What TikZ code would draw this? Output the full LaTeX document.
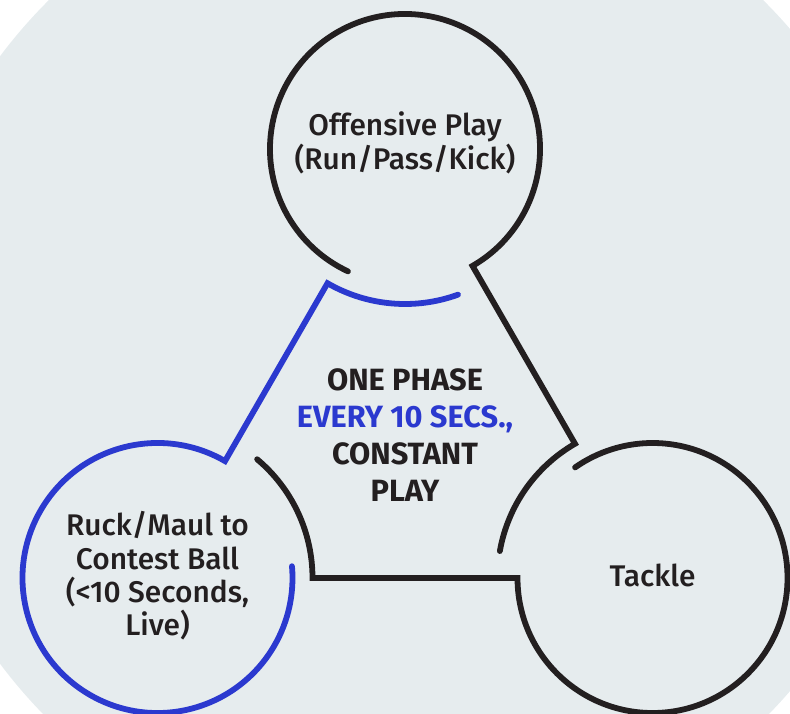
\documentclass[tikz,border=0pt]{standalone}
\usepackage{fontspec}
\setmainfont{Fira Sans}[UprightFont={Fira Sans Medium}, BoldFont={Fira Sans Bold}]
\usepackage{tikz}
\usetikzlibrary{calc}
\definecolor{phaseblue}{RGB}{43,57,207}
\definecolor{inkblack}{RGB}{35,31,32}
\definecolor{bggray}{RGB}{230,236,238}
\tikzstyle{cyclelabel} = [align=center, text=inkblack,
                 font=\fontsize{17}{19}\selectfont]
\tikzstyle{ring} = [line width=3.3pt, line cap=round, draw=inkblack]
\tikzset{
	bluering/.style={ring, draw=phaseblue},
	phasetext/.style={align=center, text=inkblack,
		font=\bfseries\fontsize{17.5}{21}\selectfont},
}

\begin{document}
\begin{tikzpicture}

\useasboundingbox (0,0) rectangle (15.8,14.26);
\clip (0,0) rectangle (15.8,14.26);
\fill [bggray] (8.12,7.06) circle (10.14);

	%centres
\coordinate (top) at (8.10,11.28);
\coordinate (left) at (3.15,2.70);
\coordinate (right) at (13.05,2.70);

\node [cyclelabel] (offense) at (8.10,11.40) {Offensive Play\\(Run/Pass/Kick)};
\node [cyclelabel] (ruck) at (3.15,2.74) {Ruck/Maul to\\Contest Ball\\(<10 Seconds,\\Live)};
\node [cyclelabel] (tackle) at (13.05,2.76) {Tackle};
\node [phasetext] (phase) at (8.10,5.56)
	{ONE PHASE\\\textcolor{phaseblue}{EVERY 10 SECS.,}\\CONSTANT\\PLAY};

\draw [bluering] ($(top)+(290:3.1)$) arc [start angle=290, end angle=240, radius=3.1]
	-- ($(left)+(60:2.7)$) arc [start angle=60, end angle=365, radius=2.7];
\draw [ring] ($(right)+(170:3.1)$) arc [start angle=170, end angle=120, radius=3.1]
	-- ($(top)+(300:2.7)$) arc [start angle=300, end angle=605, radius=2.7];
\draw [ring] ($(left)+(50:3.1)$) arc [start angle=50, end angle=0, radius=3.1]
	-- ($(right)+(180:2.7)$) arc [start angle=180, end angle=485, radius=2.7];

\end{tikzpicture}
\end{document}
